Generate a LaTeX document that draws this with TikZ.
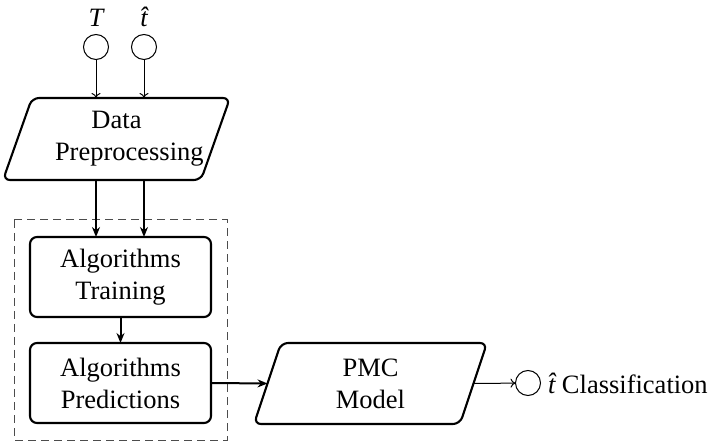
\documentclass[tikz,border=0pt]{standalone}
\usepackage{fontspec}
\setmainfont{Liberation Serif}
\usetikzlibrary{arrows.meta,calc}
\begin{document}
\begin{tikzpicture}[x=1pt,y=-1pt,
  font=\fontsize{26.5}{32}\selectfont,
  every node/.style={inner sep=0pt, outer sep=0pt},
  io/.style={circle, draw, line width=1pt, minimum size=25pt},
  procbox/.style={draw, line width=2.1pt, rounded corners=7pt,
    align=center, minimum width=181pt, minimum height=80pt},
  slantarea/.style={align=center},
  boxline/.style={draw, line width=2.1pt, rounded corners=7pt},
  thinarrow/.style={line width=1pt, -{To[length=5pt,width=9pt]}},
  thickarrow/.style={line width=2pt, -{Stealth[length=10pt,width=8pt]}},
  frame/.style={draw=black!70, line width=1pt, dash pattern=on 8pt off 5pt}
]
\useasboundingbox (0,0) rectangle (712,443);

% inputs
\node[io] (cT) at (96,47) {};
\node[io] (cth) at (144,47) {};
\node[anchor=base] (lT) at (96,27) {\itshape T};
\node[anchor=base] (lth) at (144,27) {\itshape\^{t}};

% data preprocessing (parallelogram)
\node[slantarea, minimum width=227pt, minimum height=82pt, text width=123pt]
  (dp) at (116.5,139) {Data\\Preprocessing};
\draw[boxline] ([xshift=29pt]dp.north west) -- (dp.north east)
  -- ([xshift=-29pt]dp.south east) -- (dp.south west) -- cycle;

% algorithm stage
\draw[frame] (14,220) rectangle (227,440);
\node[procbox] (at) at (120.5,277) {Algorithms\\Training};
\node[procbox] (ap) at (120.5,383) {Algorithms\\Predictions};

% PMC model (parallelogram)
\node[slantarea, minimum width=233pt, minimum height=81pt]
  (pmc) at (370.5,383.5) {PMC\\Model};
\draw[boxline] ([xshift=27pt]pmc.north west) -- (pmc.north east)
  -- ([xshift=-27pt]pmc.south east) -- (pmc.south west) -- cycle;
\coordinate (pmcin) at ([xshift=13.5pt]pmc.west);
\coordinate (pmcout) at ([xshift=-13.5pt]pmc.east);

% output
\node[io] (out) at (528,383) {};
\node[anchor=base west] (cls) at (548,393) {{\itshape\^{t}} Classification};

% connectors
\draw[thinarrow] (cT) -- (cT |- dp.north);
\draw[thinarrow] (cth) -- (cth |- dp.north);
\draw[thickarrow] (cT |- dp.south) -- (cT |- at.north);
\draw[thickarrow] (cth |- dp.south) -- (cth |- at.north);
\draw[thickarrow] (at) -- (ap);
\draw[thickarrow] (ap.east) -- (pmcin);
\draw[thinarrow] (pmcout) -- (out);
\end{tikzpicture}
\end{document}
